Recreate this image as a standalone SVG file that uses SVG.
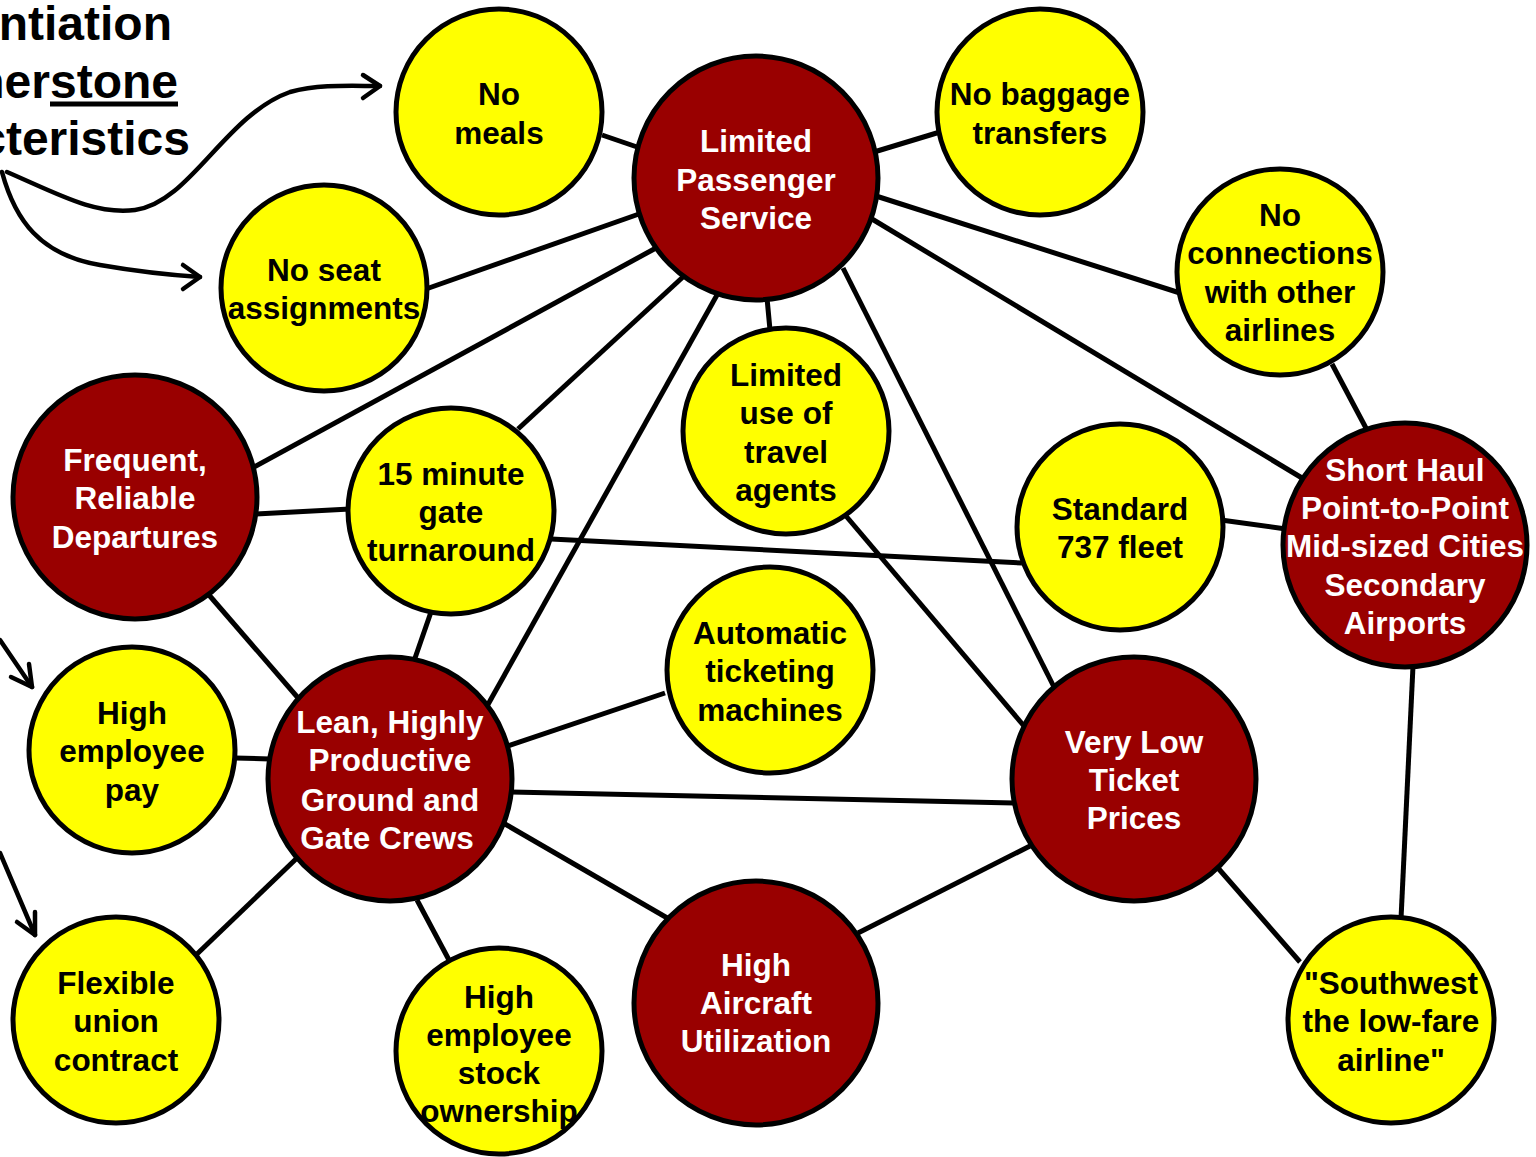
<svg xmlns="http://www.w3.org/2000/svg" width="1536" height="1157" viewBox="0 0 1536 1157">
<defs>
<style>
.y{fill:#FFFF00;stroke:#000;stroke-width:5}
.r{fill:#990000;stroke:#000;stroke-width:5}
.ty{font-family:"Liberation Sans",Arial,sans-serif;font-weight:bold;font-size:31.5px;fill:#000;text-anchor:middle}
.tr{font-family:"Liberation Sans",Arial,sans-serif;font-weight:bold;font-size:31.5px;fill:#fff;text-anchor:middle}
.title{font-family:"Liberation Sans",Arial,sans-serif;font-weight:bold;font-size:48px;fill:#000;text-anchor:end}
.c line{stroke:#000;stroke-width:5}
.a path{fill:none;stroke:#000;stroke-width:4.5;stroke-linecap:round;stroke-linejoin:round}
</style>
</defs>
<rect width="1536" height="1157" fill="#fff"/>
<g id="title">
<text class="title" x="172" y="40">ntiation</text>
<text class="title" x="178" y="98">nerstone</text>
<line x1="50" y1="104" x2="178" y2="104" stroke="#000" stroke-width="5"/>
<text class="title" x="190" y="155">cteristics</text>
</g>
<g id="arrows" class="a">
<path d="M7,172 C60,195 95,215 135,210 C190,203 225,115 290,92 C320,84 350,86 380,86"/>
<path d="M363,75 L380,86 L363,98"/>
<path d="M2,172 C15,220 40,255 100,265 C140,272 170,275 200,277"/>
<path d="M183,265 L200,277 L183,289"/>
<path d="M0,640 L32,687"/>
<path d="M11,677 L32,687 L29,664"/>
<path d="M0,853 L35,935"/>
<path d="M17,922 L35,935 L35,912"/>
</g>
<g id="connectors" class="c">
<line x1="602" y1="135" x2="640" y2="148"/>
<line x1="874" y1="152" x2="940" y2="132"/>
<line x1="876" y1="196" x2="1180" y2="293"/>
<line x1="872" y1="219" x2="1302" y2="478"/>
<line x1="767" y1="298" x2="770" y2="330"/>
<line x1="843" y1="268" x2="1054" y2="687"/>
<line x1="426" y1="289" x2="639" y2="214"/>
<line x1="254" y1="467" x2="656" y2="248"/>
<line x1="518" y1="429" x2="684" y2="276"/>
<line x1="486" y1="708" x2="717" y2="295"/>
<line x1="1332" y1="364" x2="1367" y2="430"/>
<line x1="256" y1="514" x2="350" y2="509"/>
<line x1="209" y1="595" x2="299" y2="699"/>
<line x1="431" y1="612" x2="414" y2="661"/>
<line x1="551" y1="539" x2="1022" y2="563"/>
<line x1="1221" y1="520" x2="1286" y2="529"/>
<line x1="846" y1="516" x2="1024" y2="726"/>
<line x1="665" y1="693" x2="508" y2="746"/>
<line x1="511" y1="792" x2="1014" y2="803"/>
<line x1="235" y1="758" x2="270" y2="759"/>
<line x1="197" y1="954" x2="297" y2="858"/>
<line x1="417" y1="900" x2="449" y2="960"/>
<line x1="505" y1="824" x2="669" y2="919"/>
<line x1="858" y1="933" x2="1030" y2="846"/>
<line x1="1218" y1="868" x2="1300" y2="962"/>
<line x1="1413" y1="666" x2="1401" y2="919"/>
</g>
<g id="no-meals"><circle class="y" cx="499" cy="112" r="103"/><text class="ty" x="499" y="105">No</text><text class="ty" x="499" y="144">meals</text></g>
<g id="limited-passenger-service"><circle class="r" cx="756" cy="178" r="122"/><text class="tr" x="756" y="152">Limited</text><text class="tr" x="756" y="191">Passenger</text><text class="tr" x="756" y="229">Service</text></g>
<g id="no-baggage"><circle class="y" cx="1040" cy="112" r="103"/><text class="ty" x="1040" y="105">No baggage</text><text class="ty" x="1040" y="144">transfers</text></g>
<g id="no-seat"><circle class="y" cx="324" cy="288" r="103"/><text class="ty" x="324" y="281">No seat</text><text class="ty" x="324" y="319">assignments</text></g>
<g id="no-connections"><circle class="y" cx="1280" cy="272" r="103"/><text class="ty" x="1280" y="226">No</text><text class="ty" x="1280" y="264">connections</text><text class="ty" x="1280" y="303">with other</text><text class="ty" x="1280" y="341">airlines</text></g>
<g id="limited-travel-agents"><circle class="y" cx="786" cy="431" r="103"/><text class="ty" x="786" y="386">Limited</text><text class="ty" x="786" y="424">use of</text><text class="ty" x="786" y="463">travel</text><text class="ty" x="786" y="501">agents</text></g>
<g id="frequent-reliable"><circle class="r" cx="135" cy="497" r="122"/><text class="tr" x="135" y="471">Frequent,</text><text class="tr" x="135" y="509">Reliable</text><text class="tr" x="135" y="548">Departures</text></g>
<g id="gate-turnaround"><circle class="y" cx="451" cy="511" r="103"/><text class="ty" x="451" y="485">15 minute</text><text class="ty" x="451" y="523">gate</text><text class="ty" x="451" y="561">turnaround</text></g>
<g id="standard-fleet"><circle class="y" cx="1120" cy="527" r="103"/><text class="ty" x="1120" y="520">Standard</text><text class="ty" x="1120" y="558">737 fleet</text></g>
<g id="short-haul"><circle class="r" cx="1405" cy="545" r="122"/><text class="tr" x="1405" y="481">Short Haul</text><text class="tr" x="1405" y="519">Point-to-Point</text><text class="tr" x="1405" y="557">Mid-sized Cities</text><text class="tr" x="1405" y="596">Secondary</text><text class="tr" x="1405" y="634">Airports</text></g>
<g id="automatic-ticketing"><circle class="y" cx="770" cy="670" r="103"/><text class="ty" x="770" y="644">Automatic</text><text class="ty" x="770" y="682">ticketing</text><text class="ty" x="770" y="721">machines</text></g>
<g id="high-pay"><circle class="y" cx="132" cy="750" r="103"/><text class="ty" x="132" y="724">High</text><text class="ty" x="132" y="762">employee</text><text class="ty" x="132" y="801">pay</text></g>
<g id="lean-crews"><circle class="r" cx="390" cy="779" r="122"/><text class="tr" x="390" y="733">Lean, Highly</text><text class="tr" x="390" y="771">Productive</text><text class="tr" x="390" y="811">Ground and</text><text class="tr" x="387" y="849">Gate Crews</text></g>
<g id="very-low-prices"><circle class="r" cx="1134" cy="779" r="122"/><text class="tr" x="1134" y="753">Very Low</text><text class="tr" x="1134" y="791">Ticket</text><text class="tr" x="1134" y="829">Prices</text></g>
<g id="flexible-union"><circle class="y" cx="116" cy="1020" r="103"/><text class="ty" x="116" y="994">Flexible</text><text class="ty" x="116" y="1032">union</text><text class="ty" x="116" y="1071">contract</text></g>
<g id="stock-ownership"><circle class="y" cx="499" cy="1051" r="103"/><text class="ty" x="499" y="1008">High</text><text class="ty" x="499" y="1046">employee</text><text class="ty" x="499" y="1084">stock</text><text class="ty" x="499" y="1122">ownership</text></g>
<g id="aircraft-utilization"><circle class="r" cx="756" cy="1003" r="122"/><text class="tr" x="756" y="976">High</text><text class="tr" x="756" y="1014">Aircraft</text><text class="tr" x="756" y="1052">Utilization</text></g>
<g id="southwest"><circle class="y" cx="1391" cy="1020" r="103"/><text class="ty" x="1391" y="994">"Southwest</text><text class="ty" x="1391" y="1032">the low-fare</text><text class="ty" x="1391" y="1071">airline"</text></g>
</svg>
